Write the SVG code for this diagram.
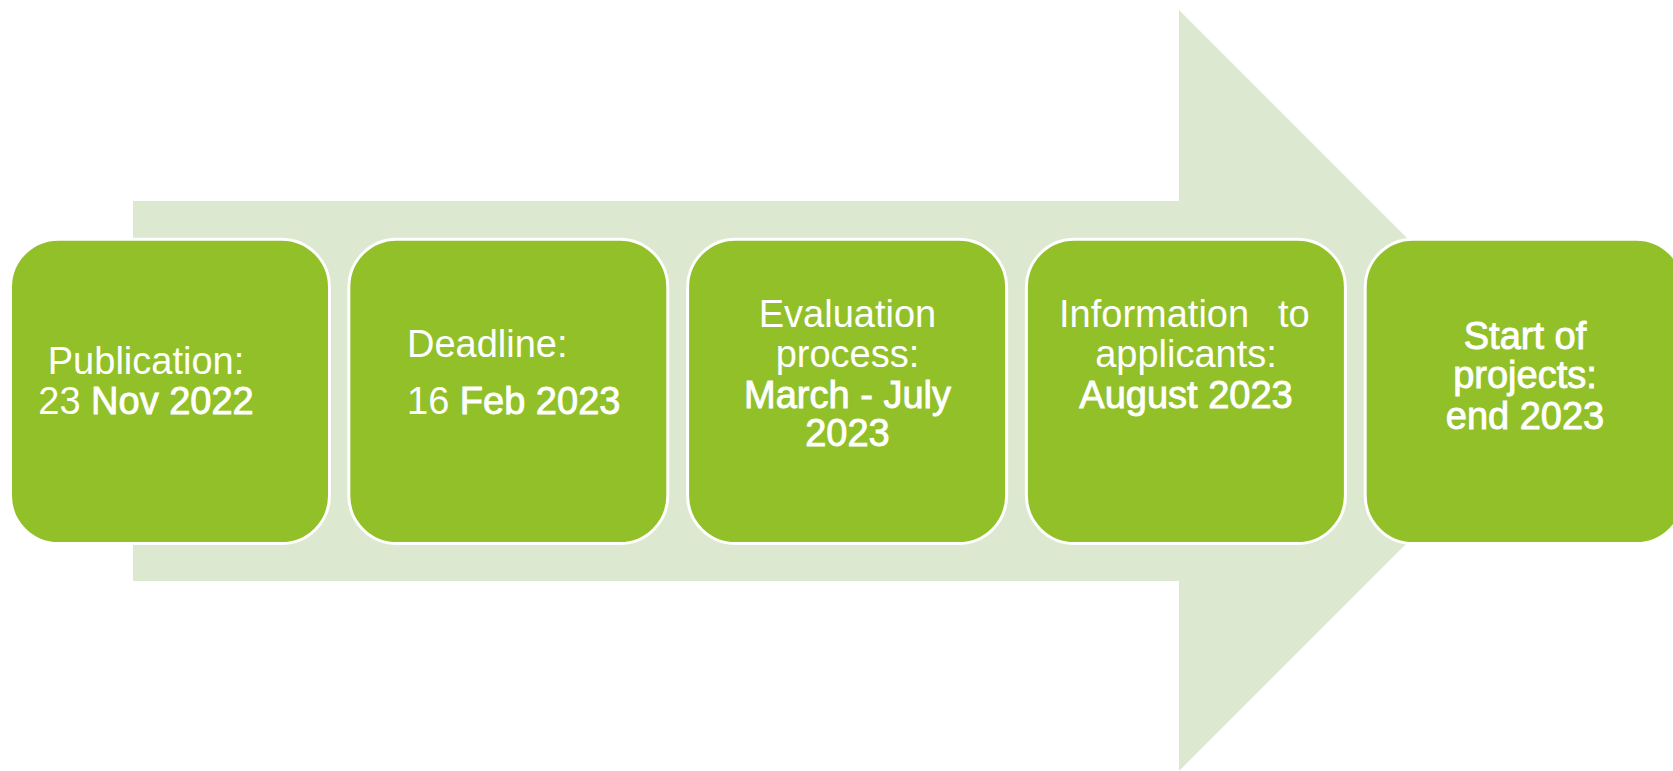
<svg xmlns="http://www.w3.org/2000/svg" width="1673" height="771" viewBox="0 0 1673 771">
<style>
.box{fill:#92C029;stroke:#FFFFFF;stroke-width:3}
.t{font-family:"Liberation Sans",Arial,sans-serif;font-size:38px;fill:#FFFFFF}
.b{stroke:#FFFFFF;stroke-width:0.9px}
.c{text-anchor:middle}
</style>
<rect width="1673" height="771" fill="#FFFFFF"/>
<g id="connectors">
<polygon id="arrow" points="133,201 1179,201 1179,10 1559.5,390.5 1179,771 1179,581 133,581" fill="#DDE8D0"/>
</g>
<g id="node1">
<rect class="box" x="10.5" y="239.2" width="319" height="304.3" rx="48" ry="48"/>
<text class="t c" x="146" y="374">Publication:</text>
<text class="t c" x="146" y="414">23 <tspan class="b">Nov 2022</tspan></text>
</g>
<g id="node2">
<rect class="box" x="348.8" y="239.2" width="319" height="304.3" rx="48" ry="48"/>
<text class="t" x="407" y="357">Deadline:</text>
<text class="t" x="407" y="414">16 <tspan class="b">Feb 2023</tspan></text>
</g>
<g id="node3">
<rect class="box" x="687.6" y="239.2" width="319" height="304.3" rx="48" ry="48"/>
<text class="t c" x="847.5" y="327">Evaluation</text>
<text class="t c" x="847.5" y="367">process:</text>
<text class="t c b" x="847.5" y="408">March - July</text>
<text class="t c b" x="847.5" y="446">2023</text>
</g>
<g id="node4">
<rect class="box" x="1026.4" y="239.2" width="319" height="304.3" rx="48" ry="48"/>
<text class="t" x="1059" y="327">Information <tspan x="1278">to</tspan></text>
<text class="t c" x="1186" y="367">applicants:</text>
<text class="t c b" x="1186" y="408">August 2023</text>
</g>
<g id="node5">
<rect class="box" x="1365.2" y="239.2" width="319" height="304.3" rx="48" ry="48"/>
<text class="t c b" x="1525" y="349">Start of</text>
<text class="t c b" x="1525" y="388">projects:</text>
<text class="t c b" x="1525" y="429">end 2023</text>
</g>
</svg>
